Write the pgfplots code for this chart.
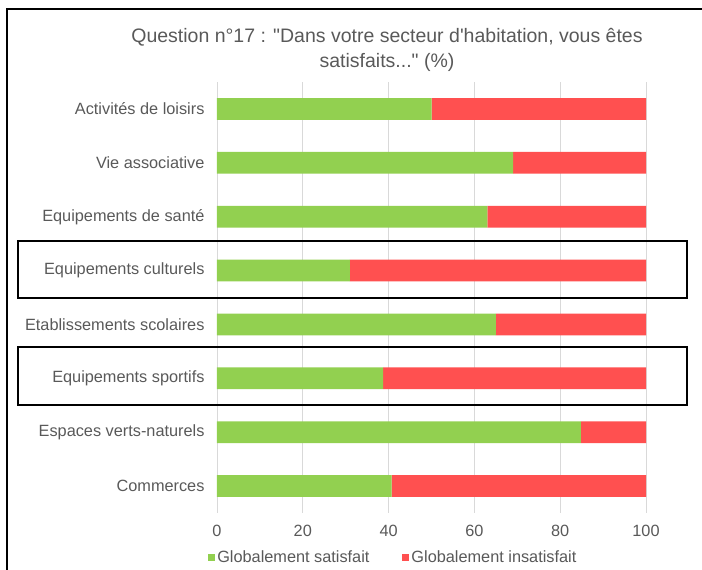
\documentclass[border=0pt]{standalone}
\usepackage{fontspec}
\setmainfont{Liberation Sans}[Ligatures=TeXOff]
\usepackage{pgfplots}
\pgfplotsset{compat=1.18}
\definecolor{satis}{HTML}{92D050}
\definecolor{insat}{HTML}{FF5050}
\definecolor{txt}{HTML}{595959}
\definecolor{grd}{HTML}{D9D9D9}
\begin{document}
\begin{tikzpicture}
\useasboundingbox (0pt,0pt) rectangle (702pt,-570pt);
\begin{axis}[
  at={(217pt,-513pt)}, anchor=south west,
  scale only axis, width=429pt, height=431pt,
  xbar stacked, bar width=21.7pt,
  xmin=0, xmax=100, ymin=-0.5, ymax=7.5, y dir=reverse,
  xtick={0,20,...,100},
  ytick={0,...,7},
  yticklabels={Activités de loisirs, Vie associative, Equipements de santé,
    Equipements culturels, Etablissements scolaires, Equipements sportifs,
    Espaces verts-naturels, Commerces},
  /pgf/number format/assume math mode=true,
  ticklabel style={font=\fontsize{16.3}{19}\selectfont, text=txt},
  yticklabel style={xshift=-9pt},
  xticklabel style={yshift=-9pt},
  tick style={draw=none},
  axis line style={draw=none},
  xmajorgrids, grid style={grd, line width=0.8pt},
  legend columns=2,
  legend style={at={(0.411,-0.104)}, anchor=center, draw=none,
    font=\fontsize{16.3}{19}\selectfont, text=txt,
    /tikz/every even column/.append style={column sep=31pt}},
  legend image code/.code={\fill[#1] (0pt,-3.5pt) rectangle (7pt,3.5pt);},
]
\addplot[fill=satis, draw=none] coordinates {(50,0) (69,1) (63,2) (31,3) (65,4) (38.7,5) (84.8,6) (40.7,7)};
\addlegendentry{Globalement satisfait}
\addplot[fill=insat, draw=none] coordinates {(50,0) (31,1) (37,2) (69,3) (35,4) (61.3,5) (15.2,6) (59.3,7)};
\addlegendentry{Globalement insatisfait}
\end{axis}
\node[text=txt, align=center, font=\fontsize{19.5}{24.5}\selectfont] at (387pt,-50pt)
  {Question n°17 : "Dans votre secteur d'habitation, vous êtes\\ satisfaits..." (\%)};
\draw[line width=1.8pt] (7pt,-575pt) -- (7pt,-9pt) -- (710pt,-9pt);
\draw[line width=2pt] (18pt,-241pt) rectangle (687pt,-298pt);
\draw[line width=2pt] (18pt,-347pt) rectangle (687pt,-405pt);
\end{tikzpicture}
\end{document}
